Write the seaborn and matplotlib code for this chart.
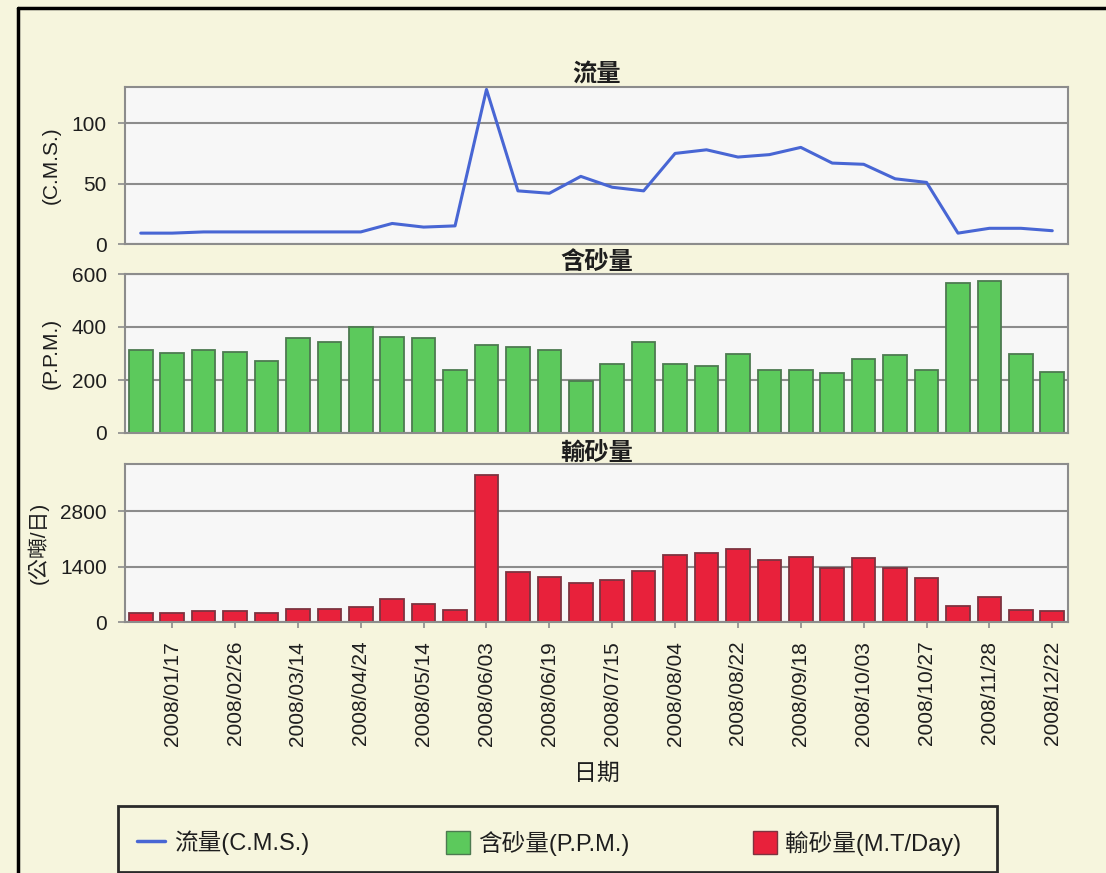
import numpy as np
import pandas as pd
import matplotlib
matplotlib.use("Agg")
import matplotlib.pyplot as plt
import seaborn as sns
from matplotlib.lines import Line2D
from matplotlib.patches import Patch, Rectangle

# Sampling dates (every other one is labelled on the axis)
dates = ["2008/01/03", "2008/01/17", "2008/02/13", "2008/02/26", "2008/03/04",
         "2008/03/14", "2008/04/08", "2008/04/24", "2008/05/05", "2008/05/14",
         "2008/05/26", "2008/06/03", "2008/06/12", "2008/06/19", "2008/07/03",
         "2008/07/15", "2008/07/24", "2008/08/04", "2008/08/13", "2008/08/22",
         "2008/09/03", "2008/09/18", "2008/09/26", "2008/10/03", "2008/10/15",
         "2008/10/27", "2008/11/12", "2008/11/28", "2008/12/10", "2008/12/22"]

# Discharge (C.M.S.)
flow = [9, 9, 10, 10, 10, 10, 10, 10, 17, 14, 15, 128, 44, 42, 56,
        47, 44, 75, 78, 72, 74, 80, 67, 66, 54, 51, 9, 13, 13, 11]

# Suspended sediment concentration (P.P.M.)
concentration = [312, 303, 312, 304, 271, 358, 345, 401, 363, 358, 239, 331, 325, 312, 195,
                 259, 344, 259, 252, 299, 239, 239, 227, 278, 293, 239, 566, 573, 299, 231]

# Sediment discharge (M.T/Day)
load = [236, 236, 278, 278, 236, 320, 320, 371, 590, 464, 312, 3710, 1273, 1147, 978,
        1062, 1290, 1686, 1737, 1838, 1568, 1653, 1358, 1610, 1374, 1105, 413, 624, 312, 270]

df = pd.DataFrame({"date": dates, "flow": flow, "ppm": concentration, "load": load})
df["pos"] = np.arange(len(df))

BG = "#f6f5dd"
PANEL = "#f7f7f7"
GRID = "#8c8c8c"
TXT = "#1e1e1e"
BLUE = "#4866d4"
GREEN = "#5cc95c"
RED = "#e8213b"

sns.set_theme(style="white")
plt.rcParams["font.family"] = ["Liberation Sans", "Noto Sans CJK TC"]
plt.rcParams["text.color"] = TXT
plt.rcParams["axes.labelcolor"] = TXT
plt.rcParams["xtick.color"] = TXT
plt.rcParams["ytick.color"] = TXT

W, H = 1106, 873
fig = plt.figure(figsize=(W / 100, H / 100), dpi=100, facecolor=BG)


def panel(top_px, bottom_px):
    left, right = 125, 1068
    return fig.add_axes([left / W, (H - bottom_px) / H,
                         (right - left) / W, (bottom_px - top_px) / H])


ax1 = panel(87, 244)
ax2 = panel(274, 433)
ax3 = panel(464, 622)

sns.lineplot(data=df, x="pos", y="flow", ax=ax1, color=BLUE, linewidth=2.2)
sns.barplot(data=df, x="date", y="ppm", ax=ax2, color=GREEN, saturation=1,
            width=0.75, edgecolor="#4d7a50", linewidth=1.3)
sns.barplot(data=df, x="date", y="load", ax=ax3, color=RED, saturation=1,
            width=0.75, edgecolor="#7d3340", linewidth=1.3)

titles = ["流量", "含砂量", "輸砂量"]
ylabels = ["(C.M.S.)", "(P.P.M.)", "(公噸/日)"]
yticks = [[0, 50, 100], [0, 200, 400, 600], [0, 1400, 2800]]
ylims = [(0, 130), (0, 600), (0, 4000)]

for ax, t, yl, yt, lim in zip([ax1, ax2, ax3], titles, ylabels, yticks, ylims):
    ax.set_facecolor(PANEL)
    for s in ax.spines.values():
        s.set_color(GRID)
        s.set_linewidth(1.5)
    ax.set_xlim(-0.5, len(df) - 0.5)
    ax.set_ylim(*lim)
    ax.set_yticks(yt)
    ax.yaxis.grid(True, color=GRID, linewidth=1.5)
    ax.xaxis.grid(False)
    ax.set_axisbelow(True)
    ax.tick_params(axis="y", left=True, length=5, width=1.2, color=GRID,
                   pad=8, labelsize=15)
    ax.set_ylabel(yl, fontsize=15, labelpad=8)
    ax.set_title(t, fontsize=17.5, fontweight="bold", pad=3,
                 family=["Noto Sans CJK TC"])
    ax.set_xlabel("")

for ax in (ax1, ax2):
    ax.set_xticks([])

odd = list(range(1, len(df), 2))
ax3.set_xticks(odd)
ax3.set_xticklabels([dates[i] for i in odd], rotation=90)
ax3.tick_params(axis="x", bottom=True, length=4.5, width=1.2, color=GRID,
                pad=9, labelsize=15)
ax3.set_xlabel("日期", fontsize=16.5, labelpad=12)

# Legend box along the bottom
fig.add_artist(Rectangle((118 / W, 1 / H), (997 - 118) / W, (872 - 806) / H,
                         transform=fig.transFigure, facecolor="none",
                         edgecolor="#2a2a2a", linewidth=2))
ly = (H - 843) / H
leg_items = [
    (Line2D([], [], color=BLUE, linewidth=2.5), "流量(C.M.S.)", 137, 1.2),
    (Patch(facecolor=GREEN, edgecolor="#4d7a50"), "含砂量(P.P.M.)", 446, 1.0),
    (Patch(facecolor=RED, edgecolor="#7d3340"), "輸砂量(M.T/Day)", 753, 1.0),
]
for h, lab, xp, hl in leg_items:
    fig.legend(handles=[h], labels=[lab], loc="center left",
               bbox_to_anchor=(xp / W, ly), frameon=False, borderpad=0,
               borderaxespad=0, handlelength=hl, handleheight=1.1,
               handletextpad=0.35, fontsize=17)

# Outer frame (left and top edges)
fig.add_artist(Line2D([18 / W, 18 / W], [0, (H - 8) / H], color="black",
                      linewidth=2.5, transform=fig.transFigure))
fig.add_artist(Line2D([18 / W, 1], [(H - 8) / H, (H - 8) / H], color="black",
                      linewidth=2.5, transform=fig.transFigure))

fig.savefig("out.png", dpi=100, facecolor=BG)
